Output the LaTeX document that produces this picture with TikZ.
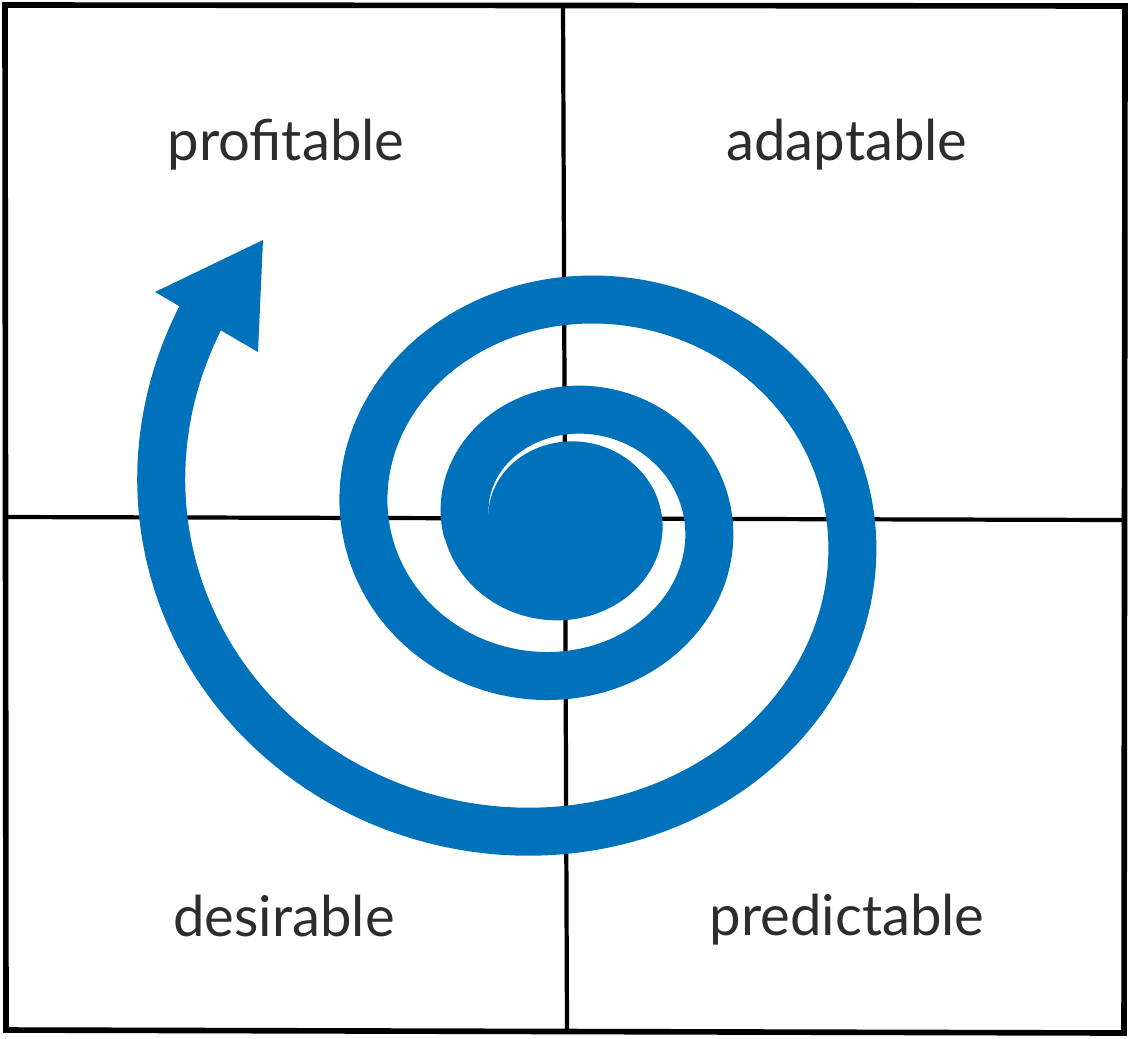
\documentclass[tikz,border=0pt]{standalone}
\usepackage{fontspec}
\setmainfont{Lato}
\usetikzlibrary{calc}
\definecolor{spiralblue}{RGB}{0,114,188}
\definecolor{labelgray}{RGB}{45,45,45}

\begin{document}
\begin{tikzpicture}[scale=1]
			\useasboundingbox (0,0) rectangle (11.30,10.38);
			\coordinate (tl) at (0.05,10.33);
			\coordinate (tr) at (11.25,10.32);
			\coordinate (br) at (11.24,0.05);
			\coordinate (bl) at (0.06,0.08);
			\coordinate (mt) at (5.63,10.33);
			\coordinate (mb) at (5.67,0.06);
			\coordinate (ml) at (0.05,5.21);
			\coordinate (mr) at (11.25,5.18);
			
			\draw[line width=1.6pt] (tl) -- (tr) -- (br) -- (bl) -- cycle;
			\draw[line width=1.2pt] (mt) -- (mb);
			\draw[line width=1.2pt] (ml) -- (mr);
			
			\pgfmathsetmacro{\cx}{5.66}
			\pgfmathsetmacro{\cy}{5.18}
			\pgfmathsetmacro{\ra}{1.008}   % start radius
			\pgfmathsetmacro{\gr}{0.001915} % growth per degree
			\pgfmathsetmacro{\sq}{0.9155}  % vertical squash
			
			% core
			\fill[spiralblue] plot[domain=0:360,samples=120,smooth,variable=\t] ({\cx+(0.775+0.47*(\t/360)*(0.6+0.4*\t/360))*cos(180-\t)},{\cy+\sq*(0.775+0.47*(\t/360)*(0.6+0.4*\t/360))*sin(180-\t)}) -- cycle;
			% band
			\draw[spiralblue,line width=0.48cm] plot[domain=-8:753,samples=300,smooth,variable=\t] ({\cx+\ra*exp(\gr*\t)*cos(180-\t)},{\cy+\sq*\ra*exp(\gr*\t)*sin(180-\t)});
			% head
			\coordinate (hl) at (1.55,7.46);
			\coordinate (ht) at (2.63,7.98);
			\coordinate (hr) at (2.58,6.86);
			\fill[spiralblue] (hl) -- (ht) -- (hr) -- cycle;
			
			\node[font=\fontsize{16}{18}\selectfont,text=labelgray,anchor=base] (profitable) at (2.86,8.78) {profitable};
			\node[font=\fontsize{16}{18}\selectfont,text=labelgray,anchor=base] (adaptable) at (8.47,8.78) {adaptable};
			\node[font=\fontsize{16}{18}\selectfont,text=labelgray,anchor=base] (desirable) at (2.84,1.02) {desirable};
			\node[font=\fontsize{16}{18}\selectfont,text=labelgray,anchor=base] (predictable) at (8.47,1.03) {predictable};
\end{tikzpicture}
\end{document}
